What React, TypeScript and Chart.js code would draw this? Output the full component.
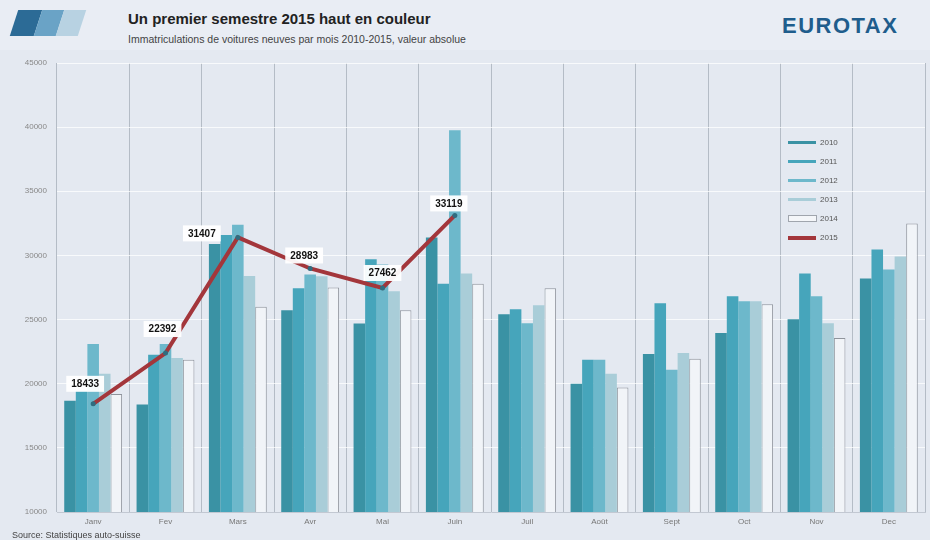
import React, { useEffect, useRef } from "react";
import { Chart, registerables } from "chart.js";

Chart.register(...registerables);

const months = ["Janv", "Fev", "Mars", "Avr", "Mai", "Juin", "Juil", "Août", "Sept", "Oct", "Nov", "Dec"];
const yTicks = [10000, 15000, 20000, 25000, 30000, 35000, 40000, 45000];

const s2010 = [18680, 18370, 30900, 25730, 24700, 31400, 25420, 20000, 22320, 23950, 25030, 28210];
const s2011 = [19450, 22250, 31600, 27440, 29700, 27800, 25800, 21860, 26280, 26820, 28600, 30460];
const s2012 = [23100, 23100, 32400, 28520, 29300, 39760, 24720, 21860, 21080, 26430, 26820, 28910];
const s2013 = [20770, 22000, 28400, 28370, 27200, 28600, 26120, 20770, 22400, 26430, 24720, 29920];
const s2014 = [19200, 21860, 26000, 27500, 25730, 27800, 27440, 19700, 21940, 26200, 23560, 32480];
const s2015 = [18433, 22392, 31407, 28983, 27462, 33119, null, null, null, null, null, null];

const seriesNames = ["2010", "2011", "2012", "2013", "2014", "2015"];

const barColors = ["#3a92a4", "#46a5bb", "#6db8cb", "#a9cdd8", "#f1f4f8"];
const lineColor = "#a3363b";

const labelOffsets: Record<number, [number, number]> = {
  0: [-8, -20],
  1: [-3, -24],
  2: [-36, -4],
  3: [-6, -13],
  4: [0, -15],
  5: [-6, -12],
};

const valueLabels = {
  id: "valueLabels",
  afterDatasetsDraw(chart: any) {
    const idx = chart.data.datasets.findIndex((d: any) => d.type === "line");
    if (idx < 0) return;
    const meta = chart.getDatasetMeta(idx);
    const ctx = chart.ctx;
    ctx.save();
    ctx.font = "bold 10px 'Liberation Sans', Arial, sans-serif";
    ctx.textAlign = "center";
    ctx.textBaseline = "middle";
    meta.data.forEach((pt: any, i: number) => {
      const v = chart.data.datasets[idx].data[i];
      if (v == null) return;
      const off = labelOffsets[i] || [0, -18];
      const x = pt.x + off[0];
      const y = pt.y + off[1];
      const text = String(v);
      const w = ctx.measureText(text).width + 10;
      ctx.fillStyle = "rgba(255,255,255,0.95)";
      ctx.fillRect(x - w / 2, y - 8, w, 16);
      ctx.fillStyle = "#111";
      ctx.fillText(text, x, y + 0.5);
    });
    ctx.restore();
  },
};

export default function App() {
  const ref = useRef<HTMLCanvasElement | null>(null);

  useEffect(() => {
    if (!ref.current) return;
    const barSets = [s2010, s2011, s2012, s2013, s2014].map((d, i) => ({
      type: "bar" as const,
      label: seriesNames[i],
      data: d,
      backgroundColor: barColors[i],
      borderColor: i === 4 ? "#8f949c" : barColors[i],
      borderWidth: i === 4 ? 1 : 0,
      barPercentage: 1.0,
      categoryPercentage: 0.8,
      order: 1,
    }));
    const chart = new Chart(ref.current, {
      data: {
        labels: months,
        datasets: [
          ...barSets,
          {
            type: "line" as const,
            label: seriesNames[5],
            data: s2015,
            borderColor: lineColor,
            borderWidth: 4,
            pointRadius: 2.5,
            pointBackgroundColor: "#2f6d80",
            pointBorderWidth: 0,
            tension: 0,
            order: 0,
          } as any,
        ],
      },
      options: {
        responsive: true,
        maintainAspectRatio: false,
        animation: false,
        layout: { padding: { left: 10, right: 5, top: 63, bottom: 0 } },
        plugins: {
          legend: { display: false },
          tooltip: { enabled: false },
          title: { display: false },
        },
        scales: {
          x: {
            grid: { offset: true, color: "rgba(160,168,180,0.7)", lineWidth: 1, drawTicks: false },
            border: { display: true, color: "#c2c8d2" },
            ticks: {
              color: "#777",
              font: { size: 8, family: "'Liberation Sans', Arial, sans-serif" },
              padding: 5,
            },
            afterFit: (s: any) => {
              s.height = 28;
            },
          },
          y: {
            min: 10000,
            max: 45000,
            afterBuildTicks: (s: any) => {
              s.ticks = yTicks.map((v) => ({ value: v }));
            },
            grid: { color: "rgba(255,255,255,0.75)", lineWidth: 1, drawTicks: false },
            border: { display: false },
            ticks: {
              color: "#888",
              font: { size: 8, family: "'Liberation Sans', Arial, sans-serif" },
              padding: 10,
              callback: (v: any) => String(v),
            },
            afterFit: (s: any) => {
              s.width = 47;
            },
          },
        },
      },
      plugins: [valueLabels],
    });
    return () => chart.destroy();
  }, []);

  const legendRow = (i: number) => {
    let sample: React.ReactNode;
    if (i < 4) {
      sample = <div style={{ width: 28, height: 3, background: barColors[i] }} />;
    } else if (i === 4) {
      sample = <div style={{ width: 27, height: 5, background: "#f4f6f9", border: "1px solid #a0a5ad" }} />;
    } else {
      sample = <div style={{ width: 28, height: 4, background: lineColor }} />;
    }
    return (
      <div key={i} style={{ display: "flex", alignItems: "center", height: 19 }}>
        <div style={{ width: 30, display: "flex", alignItems: "center" }}>{sample}</div>
        <span style={{ fontSize: 8, color: "#555", marginLeft: 2 }}>{seriesNames[i]}</span>
      </div>
    );
  };

  return (
    <div
      style={{
        position: "absolute",
        left: 0,
        top: 0,
        width: 930,
        height: 540,
        background: "#e4e9f1",
        overflow: "hidden",
        fontFamily: "'Liberation Sans', Arial, sans-serif",
      }}
    >
      <div style={{ position: "absolute", left: 0, top: 0, width: 930, height: 50, background: "#e9edf4" }} />
      <div style={{ position: "absolute", left: 14, top: 10, width: 24, height: 26, background: "#2c6b96", transform: "skewX(-18deg)" }} />
      <div style={{ position: "absolute", left: 38, top: 10, width: 22, height: 26, background: "#6aa3c6", transform: "skewX(-18deg)" }} />
      <div style={{ position: "absolute", left: 60, top: 10, width: 22, height: 26, background: "#b8d2e2", transform: "skewX(-18deg)" }} />
      <div style={{ position: "absolute", left: 128, top: 10, fontSize: 15, fontWeight: "bold", color: "#222" }}>
        Un premier semestre 2015 haut en couleur
      </div>
      <div style={{ position: "absolute", left: 128, top: 33, fontSize: 10.5, color: "#444" }}>
        Immatriculations de voitures neuves par mois 2010-2015, valeur absolue
      </div>
      <div
        style={{
          position: "absolute",
          left: 782,
          top: 13,
          fontSize: 22,
          fontWeight: "bold",
          color: "#1f5d8c",
          letterSpacing: 1.5,
        }}
      >
        EUROTAX
      </div>
      <div style={{ position: "absolute", left: 0, top: 0, width: 930, height: 540 }}>
        <canvas ref={ref} />
      </div>
      <div style={{ position: "absolute", left: 788, top: 133 }}>{[0, 1, 2, 3, 4, 5].map(legendRow)}</div>
      <div style={{ position: "absolute", left: 12, top: 530, fontSize: 9, color: "#444" }}>
        Source: Statistiques auto-suisse
      </div>
    </div>
  );
}
